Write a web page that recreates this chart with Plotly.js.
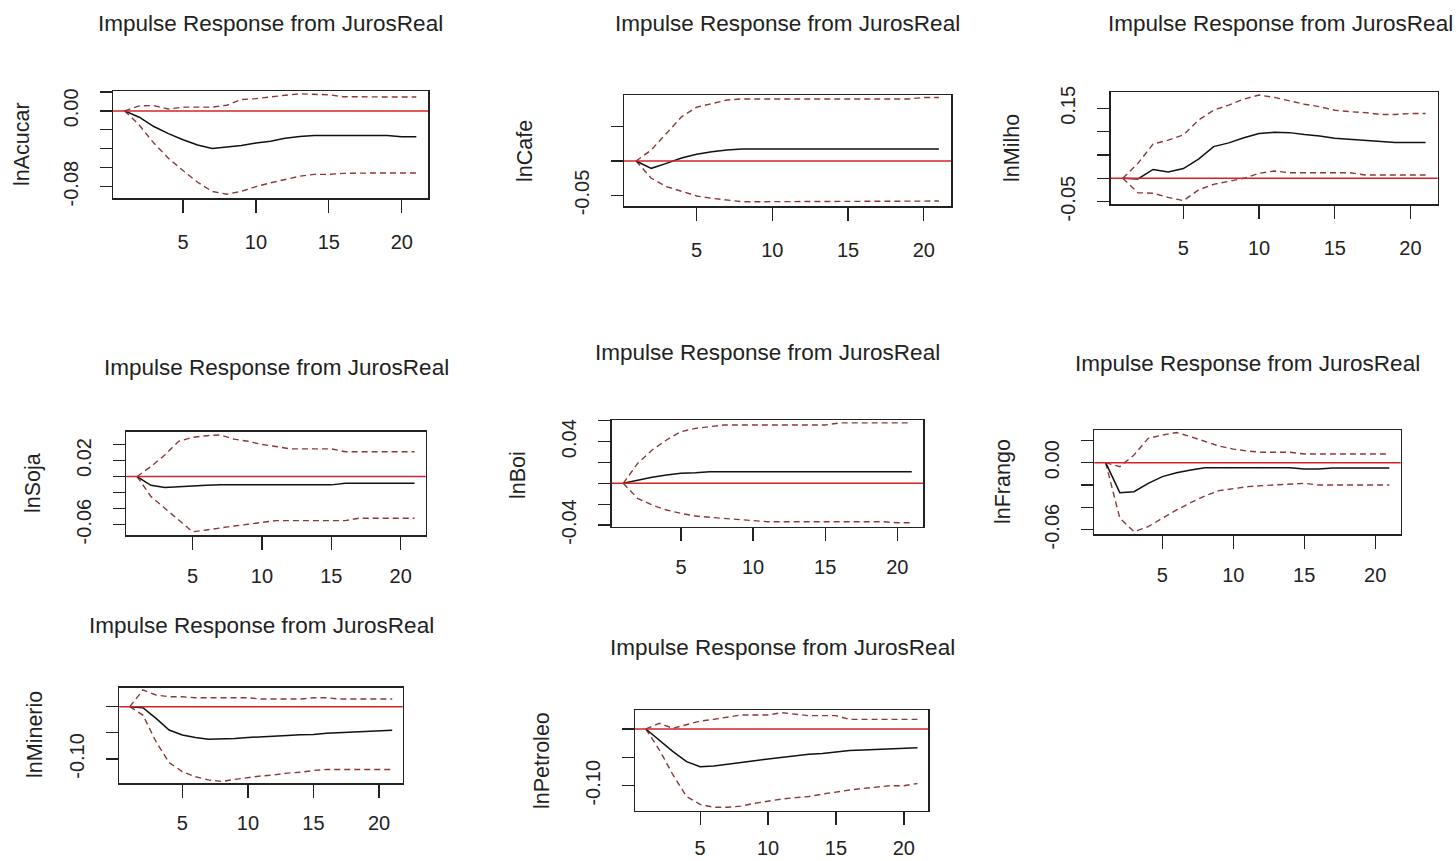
<!DOCTYPE html>
<html>
<head>
<meta charset="utf-8">
<script src="https://cdn.plot.ly/plotly-3.0.1.min.js"></script>
<style>html,body{margin:0;padding:0;background:#fff;}#chart{width:1456px;height:861px;}</style>
</head>
<body>
<div id="chart"></div>
<script>
// ---------------- DATA ----------------
const horizon = [1,2,3,4,5,6,7,8,9,10,11,12,13,14,15,16,17,18,19,20,21];
const xTickVals = [5,10,15,20];
const xTickText = ['5','10','15','20'];
const mainTitle = 'Impulse Response from JurosReal';

const acucarIrf   = [0,-0.0067,-0.0165,-0.024,-0.0305,-0.036,-0.0396,-0.038,-0.0365,-0.034,-0.032,-0.029,-0.027,-0.026,-0.026,-0.026,-0.026,-0.026,-0.026,-0.0274,-0.0274];
const acucarUpper = [0,0.0053,0.0056,0.002,0.004,0.004,0.004,0.006,0.012,0.013,0.015,0.0165,0.018,0.0175,0.017,0.015,0.0147,0.0147,0.0147,0.0147,0.0147];
const acucarLower = [0,-0.015,-0.034,-0.050,-0.063,-0.0754,-0.085,-0.088,-0.085,-0.080,-0.076,-0.0726,-0.069,-0.067,-0.067,-0.066,-0.0656,-0.0656,-0.0656,-0.0656,-0.0656];
const acucarTicks = [0.02,0,-0.02,-0.04,-0.06,-0.08];
const acucarTickText = ['','0.00','','','','-0.08'];

const cafeIrf   = [0,-0.0106,-0.0034,0.0043,0.0097,0.0135,0.016,0.0174,0.0174,0.0174,0.0174,0.0174,0.0174,0.0174,0.0174,0.0174,0.0174,0.0174,0.0174,0.0174,0.0174];
const cafeUpper = [0,0.016,0.040,0.064,0.078,0.0836,0.0884,0.090,0.090,0.090,0.090,0.090,0.090,0.090,0.090,0.090,0.090,0.090,0.090,0.092,0.092];
const cafeLower = [0,-0.025,-0.037,-0.0444,-0.0507,-0.054,-0.0565,-0.059,-0.059,-0.059,-0.059,-0.059,-0.059,-0.059,-0.059,-0.059,-0.059,-0.059,-0.059,-0.058,-0.058];
const cafeTicks = [0.05,0,-0.05];
const cafeTickText = ['','','-0.05'];

const milhoIrf   = [0,-0.0014,0.019,0.0136,0.021,0.041,0.068,0.076,0.087,0.096,0.0986,0.098,0.094,0.091,0.086,0.084,0.082,0.079,0.077,0.077,0.077];
const milhoUpper = [0,0.032,0.0736,0.082,0.093,0.125,0.146,0.157,0.17,0.1786,0.1736,0.166,0.159,0.1536,0.146,0.143,0.141,0.137,0.137,0.139,0.139];
const milhoLower = [0,-0.031,-0.032,-0.041,-0.048,-0.025,-0.0129,-0.007,0,0.0107,0.0157,0.012,0.012,0.012,0.012,0.012,0.007,0.007,0.007,0.007,0.007];
const milhoTicks = [0.15,0.10,0.05,0,-0.05];
const milhoTickText = ['0.15','','','','-0.05'];

const sojaIrf   = [0,-0.011,-0.0138,-0.0125,-0.0117,-0.0108,-0.0104,-0.0104,-0.0104,-0.0104,-0.0104,-0.0104,-0.0104,-0.0104,-0.0104,-0.0083,-0.0083,-0.0083,-0.0083,-0.0083,-0.0083];
const sojaUpper = [0,0.0125,0.027,0.044,0.049,0.051,0.052,0.0467,0.044,0.040,0.0375,0.0346,0.0346,0.0346,0.0346,0.031,0.031,0.031,0.031,0.031,0.031];
const sojaLower = [0,-0.025,-0.0396,-0.054,-0.069,-0.0667,-0.064,-0.0617,-0.0596,-0.0575,-0.055,-0.055,-0.055,-0.055,-0.055,-0.055,-0.052,-0.052,-0.052,-0.052,-0.052];
const sojaTicks = [0.04,0.02,0,-0.02,-0.04,-0.06];
const sojaTickText = ['','0.02','','','','-0.06'];

const boiIrf   = [0,0.0032,0.0058,0.008,0.0096,0.0102,0.0112,0.0112,0.0112,0.0112,0.0112,0.0112,0.0112,0.0112,0.0112,0.0112,0.0112,0.0112,0.0112,0.0112,0.0112];
const boiUpper = [0,0.0192,0.032,0.0416,0.0496,0.0528,0.0544,0.056,0.056,0.056,0.056,0.056,0.056,0.056,0.056,0.058,0.058,0.058,0.058,0.058,0.058];
const boiLower = [0,-0.0144,-0.0208,-0.0256,-0.0288,-0.0314,-0.0326,-0.0336,-0.0342,-0.0358,-0.0368,-0.0368,-0.0368,-0.0368,-0.0368,-0.0368,-0.0368,-0.0368,-0.0368,-0.0378,-0.0378];
const boiTicks = [0.06,0.04,0.02,0,-0.02,-0.04];
const boiTickText = ['','0.04','','','','-0.04'];

const frangoIrf   = [0,-0.0269,-0.026,-0.0185,-0.0125,-0.009,-0.0066,-0.0045,-0.0045,-0.0045,-0.0045,-0.0045,-0.0045,-0.0045,-0.0057,-0.0057,-0.0048,-0.0048,-0.0048,-0.0048,-0.0048];
const frangoUpper = [0,-0.0036,0.0069,0.0218,0.0248,0.027,0.0233,0.0188,0.0149,0.0122,0.0104,0.0093,0.0093,0.0093,0.0078,0.0078,0.0078,0.0078,0.0078,0.0078,0.0078];
const frangoLower = [0,-0.0498,-0.0618,-0.0573,-0.0498,-0.0424,-0.0358,-0.0298,-0.0251,-0.023,-0.0215,-0.0206,-0.02,-0.019,-0.0185,-0.02,-0.02,-0.02,-0.02,-0.02,-0.02];
const frangoTicks = [0.02,0,-0.02,-0.04,-0.06];
const frangoTickText = ['','0.00','','','-0.06'];

const minerioIrf   = [0,-0.002,-0.0223,-0.0446,-0.054,-0.059,-0.0624,-0.0624,-0.061,-0.059,-0.058,-0.0567,-0.055,-0.0535,-0.053,-0.051,-0.0497,-0.0484,-0.047,-0.046,-0.045];
const minerioUpper = [0,0.032,0.0223,0.019,0.019,0.017,0.017,0.017,0.017,0.017,0.0147,0.0147,0.0147,0.0147,0.017,0.017,0.0147,0.0147,0.0147,0.0147,0.0147];
const minerioLower = [0,-0.016,-0.067,-0.107,-0.124,-0.134,-0.140,-0.143,-0.139,-0.1357,-0.1325,-0.1306,-0.127,-0.1255,-0.122,-0.12,-0.12,-0.12,-0.12,-0.12,-0.12];
const minerioTicks = [0,-0.05,-0.10];
const minerioTickText = ['','','-0.10'];

const petroleoIrf   = [0,-0.0194,-0.040,-0.0576,-0.0665,-0.0653,-0.0618,-0.0588,-0.056,-0.053,-0.050,-0.047,-0.0447,-0.043,-0.040,-0.038,-0.037,-0.036,-0.0347,-0.0335,-0.033];
const petroleoUpper = [0,0.010,0.0012,0.007,0.0141,0.017,0.0206,0.0247,0.0247,0.0247,0.0288,0.026,0.0235,0.0235,0.0235,0.017,0.017,0.017,0.017,0.017,0.017];
const petroleoLower = [0,-0.037,-0.081,-0.119,-0.133,-0.138,-0.138,-0.136,-0.131,-0.127,-0.1235,-0.121,-0.119,-0.1147,-0.1106,-0.1076,-0.1047,-0.1018,-0.100,-0.100,-0.096];
const petroleoTicks = [0,-0.05,-0.10];
const petroleoTickText = ['','','-0.10'];

// ---------------- LAYOUT CONFIG (pixel boxes) ----------------
const W = 1456, H = 861;
const panels = [
  {label:'lnAcucar',  irf:acucarIrf,  up:acucarUpper,  lo:acucarLower,  tv:acucarTicks,  tt:acucarTickText,  yr:[-0.092,0.021],  box:[113,428,91,198],     tpos:[270,23],    lpos:[22,144],  xs:12},
  {label:'lnCafe',    irf:cafeIrf,    up:cafeUpper,    lo:cafeLower,    tv:cafeTicks,    tt:cafeTickText,    yr:[-0.0652,0.0957],box:[624,951,95,206],     tpos:[787,23],    lpos:[525,151], xs:12},
  {label:'lnMilho',   irf:milhoIrf,   up:milhoUpper,   lo:milhoLower,   tv:milhoTicks,   tt:milhoTickText,   yr:[-0.0551,0.1845],box:[1110.7,1437.7,92.3,204], tpos:[1280,23], lpos:[1012,148], xs:12},
  {label:'lnSoja',    irf:sojaIrf,    up:sojaUpper,    lo:sojaLower,    tv:sojaTicks,    tt:sojaTickText,    yr:[-0.073,0.056],  box:[126,425.7,431.7,535],tpos:[276,367],   lpos:[33,483],  xs:9},
  {label:'lnBoi',     irf:boiIrf,     up:boiUpper,     lo:boiLower,     tv:boiTicks,     tt:boiTickText,     yr:[-0.0416,0.0608],box:[611.7,923.3,420,526.7], tpos:[767,352], lpos:[518,475], xs:9},
  {label:'lnFrango',  irf:frangoIrf,  up:frangoUpper,  lo:frangoLower,  tv:frangoTicks,  tt:frangoTickText,  yr:[-0.0642,0.0293],box:[1094.3,1400.7,430,534.3], tpos:[1247,363], lpos:[1003,482], xs:9},
  {label:'lnMinerio', irf:minerioIrf, up:minerioUpper, lo:minerioLower, tv:minerioTicks, tt:minerioTickText, yr:[-0.1465,0.0363],box:[119.3,402.7,687.7,783.3], tpos:[261,625], lpos:[35,735], xs:8},
  {label:'lnPetroleo',irf:petroleoIrf,up:petroleoUpper,lo:petroleoLower,tv:petroleoTicks,tt:petroleoTickText,yr:[-0.144,0.0335], box:[635,928.3,710,810.7], tpos:[782,647], lpos:[542,761], xs:6}
];

const FONT = 'Liberation Sans, Arial, sans-serif';
const TXT = '#222222';
const traces = [];
const layout = {
  width: W, height: H,
  margin: {l:0, r:0, t:0, b:0},
  paper_bgcolor: '#ffffff', plot_bgcolor: '#ffffff',
  showlegend: false,
  font: {family: FONT, color: TXT},
  annotations: [],
  shapes: []
};

panels.forEach((p, i) => {
  const n = i + 1;
  const xa = n === 1 ? 'x' : 'x' + n;
  const ya = n === 1 ? 'y' : 'y' + n;
  const xk = n === 1 ? 'xaxis' : 'xaxis' + n;
  const yk = n === 1 ? 'yaxis' : 'yaxis' + n;
  const [l, r, t, b] = p.box;

  traces.push({x: horizon, y: p.up, xaxis: xa, yaxis: ya, mode: 'lines', hoverinfo: 'skip',
    line: {color: '#8c3838', width: 1.4, dash: '6px,4px'}});
  traces.push({x: horizon, y: p.lo, xaxis: xa, yaxis: ya, mode: 'lines', hoverinfo: 'skip',
    line: {color: '#8c3838', width: 1.4, dash: '6px,4px'}});
  traces.push({x: horizon, y: p.irf, xaxis: xa, yaxis: ya, mode: 'lines', hoverinfo: 'skip',
    line: {color: '#111111', width: 1.5}});

  // red zero reference line across the panel
  layout.shapes.push({type: 'line', xref: xa + ' domain', x0: 0, x1: 1, yref: ya, y0: 0, y1: 0,
    line: {color: '#d42424', width: 1.5}, layer: 'above'});

  layout[xk] = {
    domain: [l / W, r / W], anchor: ya, range: [0.2, 21.8],
    tickmode: 'array', tickvals: xTickVals, ticktext: xTickText,
    ticks: 'outside', ticklen: 13, tickwidth: 1.3, tickcolor: TXT,
    showline: true, mirror: true, linecolor: TXT, linewidth: 1.5,
    showgrid: false, zeroline: false, ticklabelstandoff: p.xs,
    tickfont: {family: FONT, size: 20, color: TXT}, fixedrange: true
  };
  layout[yk] = {
    domain: [1 - b / H, 1 - t / H], anchor: xa, range: p.yr,
    tickmode: 'array', tickvals: p.tv, ticktext: p.tt, tickangle: -90,
    ticks: 'outside', ticklen: 12, tickwidth: 1.3, tickcolor: TXT,
    showline: true, mirror: true, linecolor: TXT, linewidth: 1.5,
    showgrid: false, zeroline: false,
    ticklabelstandoff: 14,
    tickfont: {family: FONT, size: 20, color: TXT}, fixedrange: true
  };

  layout.annotations.push({
    text: mainTitle, xref: 'paper', yref: 'paper',
    x: p.tpos[0] / W, y: 1 - p.tpos[1] / H, xanchor: 'center', yanchor: 'middle',
    showarrow: false, font: {family: FONT, size: 22.5, color: TXT}
  });
  layout.annotations.push({
    text: p.label, xref: 'paper', yref: 'paper', textangle: -90,
    x: p.lpos[0] / W, y: 1 - p.lpos[1] / H, xanchor: 'center', yanchor: 'middle',
    showarrow: false, font: {family: FONT, size: 21.5, color: TXT}
  });
});

Plotly.newPlot('chart', traces, layout, {displayModeBar: false, staticPlot: true});
</script>
</body>
</html>
